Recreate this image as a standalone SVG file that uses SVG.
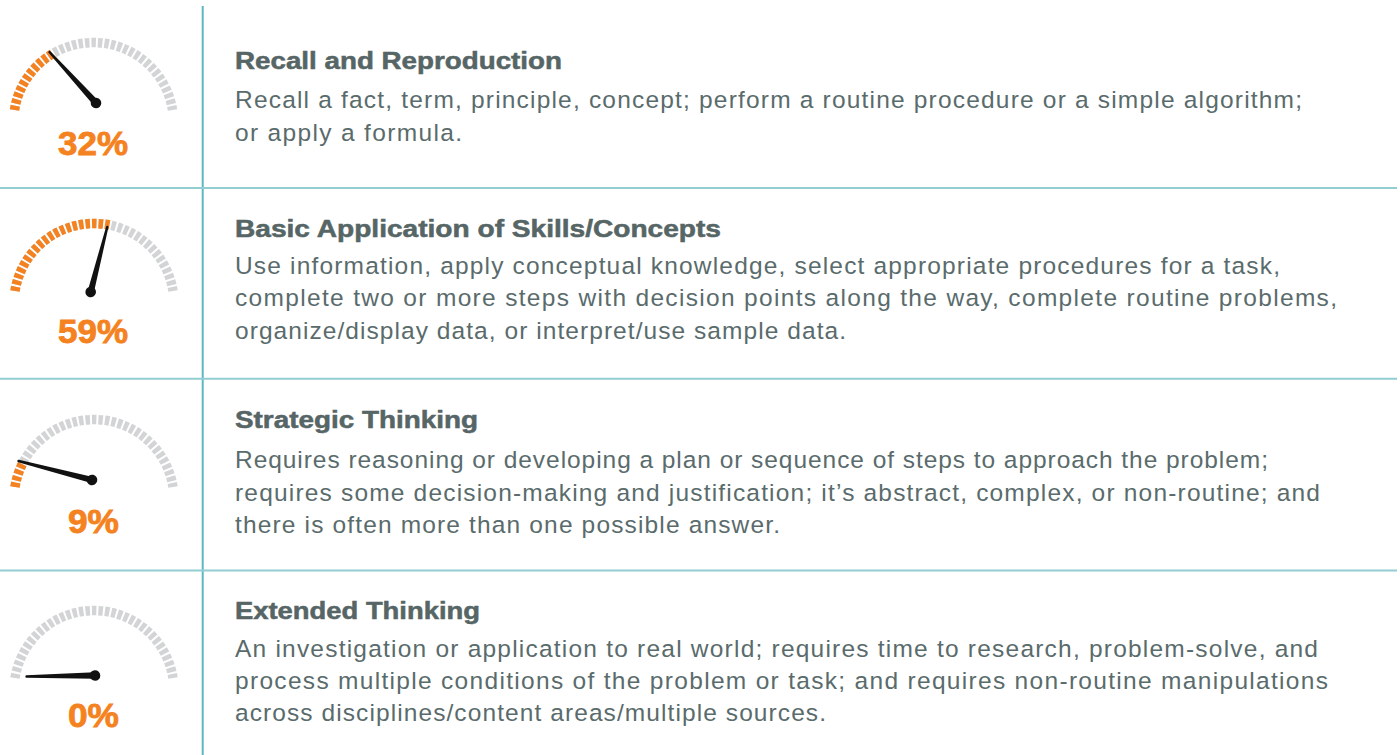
<svg xmlns="http://www.w3.org/2000/svg" width="1400" height="755" viewBox="0 0 1400 755">
<style>
.bg{fill:#ffffff}
.vline{stroke:#5bb8bf;stroke-width:2;fill:none}
.hline{stroke:#92cdd1;stroke-width:2;fill:none}
.track{fill:none;stroke:#d2d4d5;stroke-width:9.5;stroke-dasharray:4.5 2.0203}
.fillarc{fill:none;stroke:#f58220;stroke-width:9.5;stroke-dasharray:4.5 2.0203}
.needle{fill:#111111}
.pct{font-family:"Liberation Sans",Arial,sans-serif;font-weight:bold;font-size:33px;fill:#f58220;stroke:#f58220;stroke-width:0.8;text-anchor:middle}
.title{font-family:"Liberation Sans",Arial,sans-serif;font-weight:bold;font-size:23px;fill:#566565;stroke:#566565;stroke-width:0.5}
.body{font-family:"Liberation Sans",Arial,sans-serif;font-size:24.5px;fill:#5a6b6c}
</style>
<rect class="bg" x="0" y="0" width="1400" height="755"/>
<g id="connectors">
<line class="vline" x1="202.7" y1="6" x2="202.7" y2="755"/>
<line class="hline" x1="0" y1="188" x2="1397" y2="188"/>
<line class="hline" x1="0" y1="378.7" x2="1397" y2="378.7"/>
<line class="hline" x1="0" y1="570.5" x2="1397" y2="570.5"/>
</g>
<g id="node-recall">
<g transform="translate(-0.5,0)">
<path class="track" d="M14.99,110 A80,80 0 0 1 173.01,110"/>
<path class="fillarc" d="M14.99,110 A80,80 0 0 1 53.57,53.47"/>
</g>
<g transform="translate(96,103) rotate(47.64)">
<path class="needle" d="M0,-3.2 L-69,-1.2 A1.2,1.2 0 0 0 -69,1.2 L0,3.2 Z"/>
<circle class="needle" cx="0" cy="0" r="5.3"/>
</g>
<text class="pct" x="93" y="155" textLength="70" lengthAdjust="spacingAndGlyphs">32%</text>
<text class="title" x="235" y="68.5" textLength="327" lengthAdjust="spacingAndGlyphs">Recall and Reproduction</text>
<text class="body" x="235" y="107.5" textLength="1067" lengthAdjust="spacing">Recall a fact, term, principle, concept; perform a routine procedure or a simple algorithm;</text>
<text class="body" x="235" y="140.5" textLength="227" lengthAdjust="spacing">or apply a formula.</text>
</g>
<g id="node-basic">
<path class="track" d="M14.99,291 A80,80 0 0 1 173.01,291"/>
<path class="fillarc" d="M14.99,291 A80,80 0 0 1 110.19,225.16"/>
<g transform="translate(90.7,292) rotate(104.3)">
<path class="needle" d="M0,-3.2 L-67.1,-1.2 A1.2,1.2 0 0 0 -67.1,1.2 L0,3.2 Z"/>
<circle class="needle" cx="0" cy="0" r="5.3"/>
</g>
<text class="pct" x="93" y="343.3" textLength="70" lengthAdjust="spacingAndGlyphs">59%</text>
<text class="title" x="235" y="237" textLength="486" lengthAdjust="spacingAndGlyphs">Basic Application of Skills/Concepts</text>
<text class="body" x="235" y="273.5" textLength="1045" lengthAdjust="spacing">Use information, apply conceptual knowledge, select appropriate procedures for a task,</text>
<text class="body" x="235" y="306" textLength="1102" lengthAdjust="spacing">complete two or more steps with decision points along the way, complete routine problems,</text>
<text class="body" x="235" y="338.8" textLength="611" lengthAdjust="spacing">organize/display data, or interpret/use sample data.</text>
</g>
<g id="node-strategic">
<path class="track" d="M14.99,487 A80,80 0 0 1 173.01,487"/>
<path class="fillarc" d="M14.99,487 A80,80 0 0 1 22.69,463.24"/>
<g transform="translate(92,480) rotate(14.5)">
<path class="needle" d="M0,-3.2 L-75.9,-1.2 A1.2,1.2 0 0 0 -75.9,1.2 L0,3.2 Z"/>
<circle class="needle" cx="0" cy="0" r="5.3"/>
</g>
<text class="pct" x="93.5" y="533.3" textLength="51" lengthAdjust="spacingAndGlyphs">9%</text>
<text class="title" x="235" y="428.3" textLength="243" lengthAdjust="spacingAndGlyphs">Strategic Thinking</text>
<text class="body" x="235" y="468" textLength="1033" lengthAdjust="spacing">Requires reasoning or developing a plan or sequence of steps to approach the problem;</text>
<text class="body" x="235" y="500.5" textLength="1085" lengthAdjust="spacing">requires some decision-making and justification; it’s abstract, complex, or non-routine; and</text>
<text class="body" x="235" y="533" textLength="545" lengthAdjust="spacing">there is often more than one possible answer.</text>
</g>
<g id="node-extended">
<path class="track" d="M14.99,678 A80,80 0 0 1 173.01,678"/>
<g transform="translate(95,675.5) rotate(-0.84)">
<path class="needle" d="M0,-3.2 L-68.5,-1.2 A1.2,1.2 0 0 0 -68.5,1.2 L0,3.2 Z"/>
<circle class="needle" cx="0" cy="0" r="5.3"/>
</g>
<text class="pct" x="93.5" y="726.7" textLength="51" lengthAdjust="spacingAndGlyphs">0%</text>
<text class="title" x="235" y="619" textLength="245" lengthAdjust="spacingAndGlyphs">Extended Thinking</text>
<text class="body" x="235" y="656.5" textLength="1083" lengthAdjust="spacing">An investigation or application to real world; requires time to research, problem-solve, and</text>
<text class="body" x="235" y="689" textLength="1093" lengthAdjust="spacing">process multiple conditions of the problem or task; and requires non-routine manipulations</text>
<text class="body" x="235" y="721.3" textLength="591" lengthAdjust="spacing">across disciplines/content areas/multiple sources.</text>
</g>
</svg>
